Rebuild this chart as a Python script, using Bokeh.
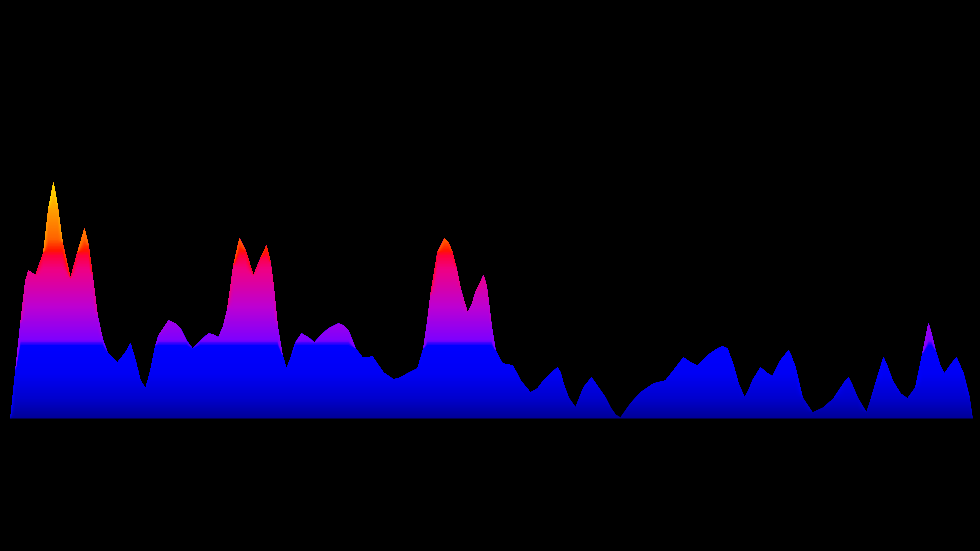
import numpy as np
from bokeh.plotting import figure
from bokeh.models import Range1d
from bokeh.embed import file_html
from bokeh.resources import INLINE

# spectrum outline: frequency position and level
freq = [10, 15, 20, 25, 28, 35, 43, 48, 53, 57, 62, 70, 77, 84, 88, 92, 97, 102, 107, 117,
        125, 130, 135, 140, 145, 150, 155, 158, 168, 175, 180, 186, 192, 200, 208, 213, 218,
        223, 227, 233, 239, 245, 253, 260, 266, 270, 273, 277, 282, 286, 290, 295, 301, 308,
        314, 320, 328, 338, 343, 348, 355, 362, 367, 372, 378, 383, 393, 400, 407, 417, 423,
        427, 430, 437, 444, 448, 452, 456, 460, 467, 471, 475, 483, 486, 488, 491, 495, 502,
        512, 516, 520, 530, 537, 543, 550, 557, 560, 563, 568, 575, 579, 583, 591, 598, 605,
        610, 615, 620, 625, 630, 640, 653, 665, 673, 683, 690, 697, 707, 717, 722, 727, 733,
        738, 744, 748, 752, 760, 766, 772, 780, 788, 791, 795, 802, 812, 823, 833, 845, 848,
        852, 857, 866, 870, 875, 883, 887, 892, 900, 907, 915, 922, 928, 931, 935, 940, 944,
        951, 956, 963, 969, 972]
ypix = [418, 370, 323, 280, 270, 275, 252, 208, 182, 205, 242, 278, 252, 228, 245, 275, 315, 338, 352, 362,
        352, 343, 360, 380, 388, 370, 345, 335, 320, 323, 328, 340, 348, 340, 333, 334, 337,
        325, 308, 265, 238, 250, 275, 258, 245, 262, 285, 325, 355, 368, 358, 342, 333, 337,
        342, 335, 328, 323, 325, 330, 348, 357, 357, 356, 365, 372, 379, 377, 373, 368, 348,
        320, 295, 252, 238, 242, 252, 268, 288, 312, 305, 292, 275, 285, 300, 325, 350, 363,
        365, 372, 380, 392, 388, 380, 373, 367, 372, 383, 397, 407, 397, 387, 377, 387, 397,
        407, 414, 417, 410, 403, 392, 383, 380, 370, 357, 362, 365, 355, 348, 346, 348, 365,
        383, 397, 390, 380, 367, 372, 376, 360, 350, 356, 367, 397, 412, 407, 398, 380, 377,
        385, 397, 412, 400, 383, 357, 366, 380, 393, 398, 387, 353, 323, 333, 350, 366, 373,
        363, 357, 373, 397, 418]
level = [418 - v for v in ypix]

# colour stops by level
stop_levels = [0, 20, 45, 73, 78, 112, 150, 163, 168, 180, 240]
stop_colors = [(0, 0, 150), (0, 0, 205), (0, 0, 245), (0, 0, 255), (125, 0, 255),
               (190, 0, 210), (240, 0, 130), (255, 0, 60), (255, 20, 0), (255, 100, 0),
               (255, 225, 0)]

x = np.array(freq, dtype=float)
y = np.array(level, dtype=float)

p = figure(width=980, height=551, output_backend="svg", toolbar_location=None,
           x_range=Range1d(0, 980), y_range=Range1d(-133, 418),
           background_fill_color="black", border_fill_color="black",
           outline_line_color=None, min_border=0)
p.axis.visible = False
p.grid.visible = False

sl = np.array(stop_levels, dtype=float)
sc = np.array(stop_colors, dtype=float)
step = 1.5
lo = 0.0
while lo < y.max():
    mid = lo + step / 2
    r = int(np.interp(mid, sl, sc[:, 0]))
    g = int(np.interp(mid, sl, sc[:, 1]))
    b = int(np.interp(mid, sl, sc[:, 2]))
    col = "#%02x%02x%02x" % (r, g, b)
    p.varea(x=x, y1=np.minimum(y, lo), y2=y, fill_color=col, fill_alpha=1.0)
    lo += step

html = file_html(p, INLINE)
html = html.replace("<head>", "<head><style>html,body{background:#000;margin:0;padding:0;overflow:hidden;}</style>", 1)
open("out.html", "w").write(html)
